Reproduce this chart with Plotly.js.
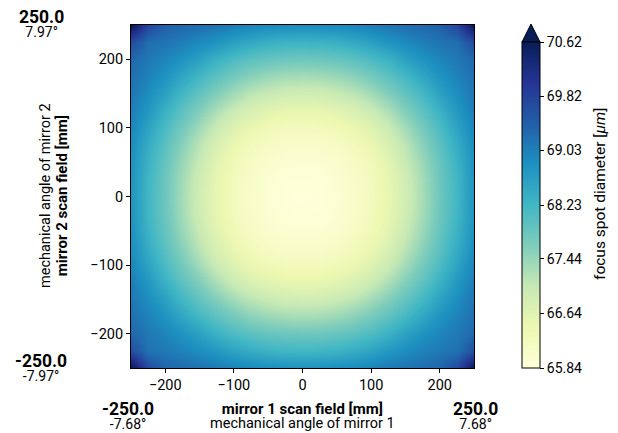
<!DOCTYPE html>
<html>
<head>
<meta charset="utf-8">
<script src="https://cdn.plot.ly/plotly-3.0.1.min.js"></script>
<style>html,body{margin:0;padding:0;background:#fff;}#plot{width:618px;height:433px;}</style>
</head>
<body>
<div id="plot"></div>
<script>
// scan positions [mm]
const xScan = [-250,-225,-200,-175,-150,-125,-100,-75,-50,-25,0,25,50,75,100,125,150,175,200,225,250];
const yScan = [-250,-225,-200,-175,-150,-125,-100,-75,-50,-25,0,25,50,75,100,125,150,175,200,225,250];
// focus spot diameter [µm], rows from y=-250 (bottom) to y=250 (top)
const spotDiameter = [
[70.70,69.69,69.35,69.26,69.18,69.10,69.00,68.92,68.86,68.84,68.83,68.84,68.86,68.92,69.00,69.10,69.18,69.26,69.35,69.69,70.70],
[69.65,69.19,69.12,69.01,68.86,68.72,68.54,68.40,68.30,68.24,68.23,68.24,68.30,68.40,68.54,68.72,68.86,69.01,69.12,69.19,69.65],
[69.31,69.12,68.98,68.79,68.57,68.32,68.12,67.97,67.87,67.82,67.80,67.82,67.87,67.97,68.12,68.32,68.57,68.79,68.98,69.12,69.31],
[69.22,69.01,68.79,68.51,68.20,67.95,67.73,67.55,67.42,67.34,67.32,67.34,67.42,67.55,67.73,67.95,68.20,68.51,68.79,69.01,69.22],
[69.14,68.86,68.57,68.20,67.89,67.60,67.33,67.12,66.99,66.89,66.87,66.89,66.99,67.12,67.33,67.60,67.89,68.20,68.57,68.86,69.14],
[69.06,68.72,68.32,67.95,67.60,67.25,66.96,66.75,66.61,66.53,66.51,66.53,66.61,66.75,66.96,67.25,67.60,67.95,68.32,68.72,69.06],
[68.96,68.54,68.12,67.73,67.33,66.96,66.68,66.47,66.34,66.27,66.25,66.27,66.34,66.47,66.68,66.96,67.33,67.73,68.12,68.54,68.96],
[68.88,68.40,67.97,67.55,67.12,66.75,66.47,66.28,66.15,66.08,66.06,66.08,66.15,66.28,66.47,66.75,67.12,67.55,67.97,68.40,68.88],
[68.82,68.30,67.87,67.42,66.99,66.61,66.34,66.15,66.02,65.96,65.94,65.96,66.02,66.15,66.34,66.61,66.99,67.42,67.87,68.30,68.82],
[68.80,68.24,67.82,67.34,66.89,66.53,66.27,66.08,65.96,65.89,65.87,65.89,65.96,66.08,66.27,66.53,66.89,67.34,67.82,68.24,68.80],
[68.79,68.23,67.80,67.32,66.87,66.51,66.25,66.06,65.94,65.87,65.84,65.87,65.94,66.06,66.25,66.51,66.87,67.32,67.80,68.23,68.79],
[68.80,68.24,67.82,67.34,66.89,66.53,66.27,66.08,65.96,65.89,65.87,65.89,65.96,66.08,66.27,66.53,66.89,67.34,67.82,68.24,68.80],
[68.82,68.30,67.87,67.42,66.99,66.61,66.34,66.15,66.02,65.96,65.94,65.96,66.02,66.15,66.34,66.61,66.99,67.42,67.87,68.30,68.82],
[68.88,68.40,67.97,67.55,67.12,66.75,66.47,66.28,66.15,66.08,66.06,66.08,66.15,66.28,66.47,66.75,67.12,67.55,67.97,68.40,68.88],
[68.96,68.54,68.12,67.73,67.33,66.96,66.68,66.47,66.34,66.27,66.25,66.27,66.34,66.47,66.68,66.96,67.33,67.73,68.12,68.54,68.96],
[69.06,68.72,68.32,67.95,67.60,67.25,66.96,66.75,66.61,66.53,66.51,66.53,66.61,66.75,66.96,67.25,67.60,67.95,68.32,68.72,69.06],
[69.14,68.86,68.57,68.20,67.89,67.60,67.33,67.12,66.99,66.89,66.87,66.89,66.99,67.12,67.33,67.60,67.89,68.20,68.57,68.86,69.14],
[69.22,69.01,68.79,68.51,68.20,67.95,67.73,67.55,67.42,67.34,67.32,67.34,67.42,67.55,67.73,67.95,68.20,68.51,68.79,69.01,69.22],
[69.31,69.12,68.98,68.79,68.57,68.32,68.12,67.97,67.87,67.82,67.80,67.82,67.87,67.97,68.12,68.32,68.57,68.79,68.98,69.12,69.31],
[69.70,69.24,69.17,69.06,68.91,68.77,68.59,68.45,68.35,68.29,68.28,68.29,68.35,68.45,68.59,68.77,68.91,69.06,69.17,69.24,69.70],
[70.70,69.75,69.41,69.32,69.24,69.16,69.06,68.98,68.92,68.90,68.89,68.90,68.92,68.98,69.06,69.16,69.24,69.32,69.41,69.75,70.70]
];
const zMin = 65.84, zMax = 70.62;
const cbTickVals = [65.84, 66.64, 67.44, 68.23, 69.03, 69.82, 70.62];
const cbTickText = ["65.84", "66.64", "67.44", "68.23", "69.03", "69.82", "70.62"];
const axisTicks = [-200, -100, 0, 100, 200];
const scanLimit = 250.0;
const angleX = 7.68, angleY = 7.97;

const ylgnbu = [
  [0.0, '#ffffd9'], [0.125, '#edf8b1'], [0.25, '#c7e9b4'], [0.375, '#7fcdbb'],
  [0.5, '#41b6c4'], [0.625, '#1d91c0'], [0.75, '#225ea8'], [0.875, '#253494'], [1.0, '#081d58']
];

// pixel -> paper helpers (plot area: x 131..474, y 25..368)
const L = 131, R = 474, T = 25, B = 368, W = R - L, H = B - T;
const px = v => (v - L) / W;
const py = v => (B - v) / H;
const font = 'Roboto, "DejaVu Sans", sans-serif';

const trace = {
  type: 'heatmap', x: xScan, y: yScan, z: spotDiameter,
  zmin: zMin, zmax: zMax, zsmooth: 'best', colorscale: ylgnbu,
  hoverinfo: 'skip',
  colorbar: {
    x: px(522), xanchor: 'left', xpad: 0, y: 0, yanchor: 'bottom', ypad: 0,
    len: 326, lenmode: 'pixels', thickness: 18, thicknessmode: 'pixels',
    outlinewidth: 1, outlinecolor: '#000',
    tickmode: 'array', tickvals: cbTickVals, ticktext: cbTickText,
    ticks: 'outside', ticklen: 4, tickwidth: 1, tickcolor: '#000',
    tickfont: {family: font, size: 14, color: '#000'}
  }
};

const big = (t, s) => `<span style="font-size:${s}px">${t}</span>`;
const ann = (x, y, text, size, angle) => ({
  xref: 'paper', yref: 'paper', x: px(x), y: py(y), text: text, showarrow: false,
  xanchor: 'center', yanchor: 'middle', textangle: angle || 0, borderpad: 0,
  font: {family: font, size: size, color: '#000'}
});
const corner = (x, y, num, deg) =>
  ann(x, y, big('<b>' + num + '</b>', 17.5) + '<br>' + big(deg, 14), 10.4);

const layout = {
  width: 618, height: 433,
  margin: {l: L, r: 618 - R, t: T, b: 433 - B, pad: 0},
  paper_bgcolor: '#fff', plot_bgcolor: '#fff',
  xaxis: {range: [-scanLimit, scanLimit], tickmode: 'array', tickvals: axisTicks,
    ticks: 'outside', ticklen: 4, tickwidth: 1, tickcolor: '#000',
    showline: true, mirror: true, linecolor: '#000', linewidth: 1,
    showgrid: false, zeroline: false, tickfont: {family: font, size: 14.5, color: '#000'}},
  yaxis: {range: [-scanLimit, scanLimit], tickmode: 'array', tickvals: axisTicks,
    ticks: 'outside', ticklen: 4, tickwidth: 1, tickcolor: '#000',
    showline: true, mirror: true, linecolor: '#000', linewidth: 1,
    showgrid: false, zeroline: false, tickfont: {family: font, size: 14.5, color: '#000'}},
  shapes: [{
    type: 'path', xref: 'paper', yref: 'paper',
    path: `M ${px(522)},${py(42)} L ${px(540)},${py(42)} L ${px(531)},${py(24)} Z`,
    fillcolor: '#081d58', line: {color: '#000', width: 1}
  }],
  annotations: [
    corner(41, 23.5, scanLimit.toFixed(1), angleY.toFixed(2) + '°'),
    corner(41, 367.5, '-' + scanLimit.toFixed(1), '-' + angleY.toFixed(2) + '°'),
    corner(128, 415.5, '-' + scanLimit.toFixed(1), '-' + angleX.toFixed(2) + '°'),
    corner(475, 415.5, scanLimit.toFixed(1), angleX.toFixed(2) + '°'),
    ann(302.5, 416, big('<b>mirror 1 scan field [mm]</b>', 15) + '<br>' + big('mechanical angle of mirror 1', 14.5), 11),
    ann(54, 196, big('mechanical angle of mirror 2', 14.5) + '<br>' + big('<b>mirror 2 scan field [mm]</b>', 15), 13, -90),
    ann(600, 194, 'focus spot diameter [<i>μm</i>]', 15.5, -90)
  ]
};

Plotly.newPlot('plot', [trace], layout, {staticPlot: true, displayModeBar: false});
</script>
</body>
</html>
